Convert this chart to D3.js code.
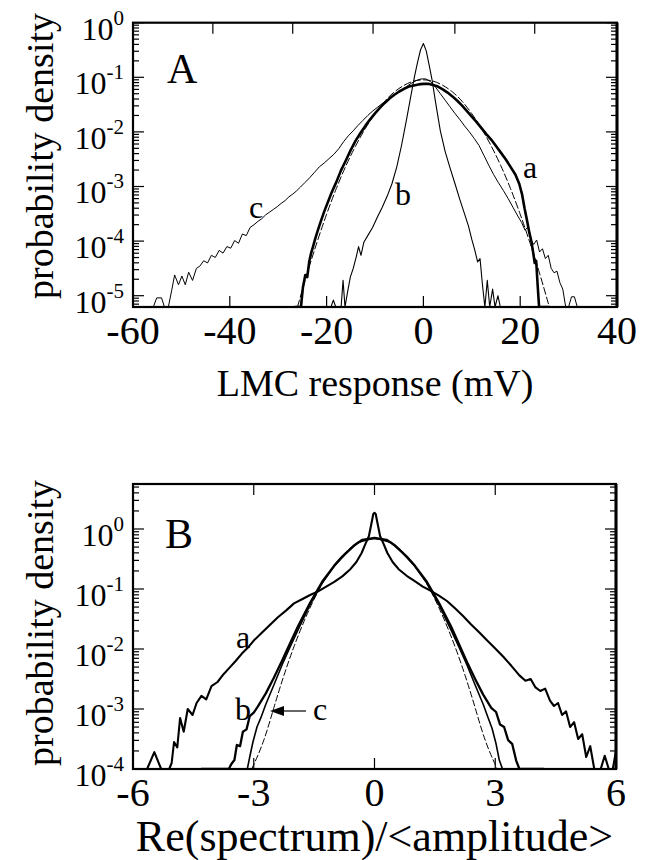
<!DOCTYPE html>
<html>
<head>
<meta charset="utf-8">
<script src="https://cdn.jsdelivr.net/npm/d3@7/dist/d3.min.js"></script>
<style>
html,body{margin:0;padding:0;background:#fff;}
svg, svg text, svg tspan{font-family:"Liberation Serif","Tinos","DejaVu Serif","Noto Serif","Times New Roman",Times,serif;}
</style>
</head>
<body>
<svg id="fig" width="649" height="860" font-family="Liberation Serif, DejaVu Serif, serif"></svg>
<script>
// Histograms are stored as [x, log10(probability density)] pairs.
// Entries well below the axis floor are empty bins; they sit on the bottom frame.

// ---- Panel A: LMC response (mV) ----
const lmcTraceA = [[-26.5,-6],[-25.3,-6],[-24.9,-4.85],[-24.4,-4.62],[-24.0,-4.66],[-23.6,-4.38],[-23.2,-4.22],[-22.8,-4.10],[-22.3,-3.94],[-21.8,-3.80],[-21.2,-3.64],[-20.5,-3.46],[-19.8,-3.30],[-19.0,-3.12],[-18.0,-2.92],[-17.0,-2.70],[-16.0,-2.52],[-15.0,-2.33],[-14.0,-2.16],[-13.0,-2.02],[-12.0,-1.89],[-11.0,-1.77],[-10.0,-1.66],[-9.0,-1.56],[-8.0,-1.47],[-7.0,-1.39],[-6.0,-1.32],[-5.0,-1.26],[-4.0,-1.21],[-3.0,-1.17],[-2.0,-1.15],[-1.0,-1.13],[0,-1.12],[1.0,-1.12],[2.0,-1.14],[3.0,-1.17],[4.0,-1.22],[5.0,-1.28],[6.0,-1.35],[7.0,-1.43],[8.0,-1.52],[9.0,-1.62],[10.0,-1.72],[11.0,-1.82],[12.0,-1.93],[13.0,-2.04],[14.0,-2.14],[15.0,-2.26],[16.0,-2.38],[17.0,-2.50],[18.0,-2.64],[19.0,-2.78],[19.8,-2.95],[20.4,-3.15],[20.9,-3.40],[21.4,-3.62],[21.9,-3.85],[22.3,-4.00],[22.7,-4.22],[23.0,-4.40],[23.3,-4.36],[23.6,-4.80],[23.9,-6],[26.0,-6]];

const lmcTraceB = [[-21.0,-6],[-19.1,-6],[-18.6,-5.08],[-18.1,-6],[-17.0,-6],[-16.6,-4.72],[-16.2,-6],[-15.7,-4.95],[-15.1,-4.66],[-14.5,-4.50],[-13.9,-4.30],[-13.4,-4.10],[-12.9,-4.26],[-12.3,-4.02],[-11.5,-3.90],[-10.5,-3.75],[-9.5,-3.56],[-8.5,-3.38],[-7.5,-3.18],[-6.5,-2.95],[-5.5,-2.64],[-4.5,-2.24],[-3.5,-1.78],[-2.5,-1.30],[-1.8,-0.97],[-1.2,-0.72],[-0.6,-0.50],[0,-0.38],[0.6,-0.52],[1.2,-0.78],[1.8,-1.05],[2.5,-1.45],[3.5,-1.98],[4.5,-2.36],[5.5,-2.66],[6.5,-2.94],[7.5,-3.23],[8.5,-3.50],[9.3,-3.72],[10.0,-3.97],[10.6,-4.16],[11.2,-4.38],[11.7,-4.32],[12.2,-4.80],[12.7,-6],[13.2,-4.72],[13.7,-6],[14.3,-4.88],[14.8,-6],[15.4,-5.0],[15.9,-6],[17.5,-6]];

const lmcTraceC = [[-57.5,-6],[-55.8,-6],[-55.1,-5.04],[-54.1,-5.04],[-53.5,-6],[-52.7,-6],[-52.0,-4.90],[-51.4,-4.62],[-50.6,-4.80],[-49.9,-4.64],[-49.2,-4.80],[-48.5,-4.57],[-47.7,-4.72],[-46.9,-4.50],[-46.2,-4.46],[-45.4,-4.36],[-44.6,-4.40],[-43.8,-4.26],[-43.0,-4.30],[-42.2,-4.17],[-41.4,-4.22],[-40.6,-4.10],[-39.8,-4.13],[-39.0,-3.99],[-38.2,-4.04],[-37.4,-3.87],[-36.6,-3.90],[-35.8,-3.75],[-35.0,-3.70],[-34.2,-3.64],[-33.4,-3.59],[-32.6,-3.52],[-31.8,-3.47],[-31.0,-3.42],[-30.2,-3.37],[-29.4,-3.31],[-28.6,-3.26],[-27.8,-3.19],[-27.0,-3.14],[-26.2,-3.08],[-25.4,-3.01],[-24.5,-2.93],[-23.5,-2.84],[-22.5,-2.74],[-21.5,-2.64],[-20.5,-2.57],[-19.5,-2.49],[-18.5,-2.41],[-17.5,-2.31],[-16.5,-2.18],[-15.5,-2.07],[-14.5,-1.98],[-13.5,-1.88],[-12.5,-1.79],[-11.5,-1.70],[-10.5,-1.62],[-9.5,-1.55],[-8.5,-1.48],[-7.5,-1.42],[-6.5,-1.35],[-5.5,-1.30],[-4.5,-1.24],[-3.5,-1.17],[-2.5,-1.11],[-1.5,-1.06],[-0.5,-1.03],[0.5,-1.03],[1.5,-1.08],[2.5,-1.18],[3.5,-1.30],[4.5,-1.42],[5.5,-1.54],[6.5,-1.66],[7.5,-1.77],[8.5,-1.89],[9.5,-2.00],[10.5,-2.12],[11.5,-2.25],[12.5,-2.43],[13.5,-2.61],[14.5,-2.78],[15.5,-2.93],[16.5,-3.07],[17.5,-3.22],[18.5,-3.38],[19.5,-3.54],[20.3,-3.66],[21.0,-3.80],[21.6,-3.74],[22.2,-3.98],[22.8,-4.06],[23.4,-3.98],[24.0,-4.20],[24.6,-4.14],[25.2,-4.32],[25.8,-4.26],[26.4,-4.50],[27.0,-4.58],[27.6,-4.55],[28.2,-4.76],[28.8,-4.88],[29.4,-6],[30.0,-6],[30.6,-5.02],[31.2,-5.02],[31.8,-6],[33.0,-6]];

const lmcGaussFit = [[-26,-5.20],[-24,-4.58],[-22,-4.02],[-20,-3.50],[-18,-3.03],[-16,-2.61],[-14,-2.25],[-12,-1.93],[-10,-1.66],[-8,-1.43],[-6,-1.26],[-4,-1.14],[-2,-1.06],[0,-1.04],[2,-1.06],[4,-1.14],[6,-1.26],[8,-1.43],[10,-1.66],[12,-1.93],[14,-2.25],[16,-2.61],[18,-3.03],[20,-3.50],[22,-4.02],[24,-4.58],[26,-5.20]];

const lmcTicks = [-60, -40, -20, 0, 20, 40];
const lmcTopTicks = [-43.5, -27, -10.4, 6.5, 23];

// ---- Panel B: Re(spectrum)/<amplitude> ----
const specTraceA = [[-6.0,-5],[-5.65,-5],[-5.47,-3.72],[-5.30,-5],[-5.10,-5],[-5.04,-3.90],[-4.98,-3.55],[-4.90,-3.64],[-4.83,-3.15],[-4.74,-3.38],[-4.64,-3.00],[-4.52,-3.10],[-4.42,-2.90],[-4.30,-2.78],[-4.18,-2.84],[-4.05,-2.62],[-3.90,-2.55],[-3.75,-2.42],[-3.60,-2.31],[-3.45,-2.20],[-3.30,-2.08],[-3.15,-1.98],[-3.00,-1.86],[-2.80,-1.73],[-2.60,-1.60],[-2.40,-1.47],[-2.20,-1.36],[-2.00,-1.24],[-1.80,-1.17],[-1.60,-1.10],[-1.40,-1.04],[-1.20,-0.96],[-1.00,-0.88],[-0.80,-0.79],[-0.60,-0.67],[-0.45,-0.55],[-0.32,-0.40],[-0.22,-0.24],[-0.14,-0.12],[-0.08,0.08],[-0.03,0.25],[0,0.27],[0.03,0.25],[0.08,0.08],[0.14,-0.12],[0.22,-0.24],[0.32,-0.40],[0.45,-0.55],[0.60,-0.67],[0.80,-0.78],[1.00,-0.87],[1.20,-0.96],[1.40,-1.03],[1.60,-1.11],[1.80,-1.20],[2.00,-1.32],[2.20,-1.45],[2.40,-1.59],[2.60,-1.72],[2.80,-1.86],[3.00,-1.99],[3.20,-2.13],[3.40,-2.28],[3.60,-2.44],[3.75,-2.53],[3.88,-2.50],[4.00,-2.64],[4.12,-2.70],[4.24,-2.66],[4.36,-2.86],[4.46,-2.95],[4.56,-2.90],[4.66,-3.10],[4.76,-3.04],[4.86,-3.30],[4.96,-3.22],[5.06,-3.50],[5.16,-3.42],[5.26,-3.80],[5.36,-3.62],[5.46,-5],[5.62,-5],[5.72,-3.78],[5.82,-5],[5.92,-5],[6.0,-3.70]];

const specTraceB = [[-4.3,-5],[-3.92,-5],[-3.85,-4.30],[-3.78,-5],[-3.62,-5],[-3.56,-3.92],[-3.48,-3.85],[-3.42,-3.60],[-3.34,-3.62],[-3.27,-3.38],[-3.18,-3.34],[-3.10,-3.12],[-3.00,-3.06],[-2.90,-2.96],[-2.70,-2.74],[-2.50,-2.48],[-2.30,-2.20],[-2.10,-1.91],[-1.90,-1.62],[-1.60,-1.23],[-1.30,-0.88],[-1.00,-0.61],[-0.80,-0.46],[-0.50,-0.27],[-0.30,-0.18],[0,-0.15],[0.30,-0.18],[0.50,-0.27],[0.80,-0.46],[1.00,-0.61],[1.30,-0.88],[1.60,-1.23],[1.90,-1.62],[2.10,-1.92],[2.30,-2.22],[2.50,-2.50],[2.70,-2.76],[2.90,-2.98],[3.02,-3.05],[3.12,-3.26],[3.22,-3.30],[3.32,-3.52],[3.42,-3.58],[3.52,-3.86],[3.60,-4.10],[3.66,-5],[4.2,-5]];

const specTraceC = [[-3.6,-5],[-3.30,-5],[-3.24,-4.20],[-3.16,-5],[-3.10,-3.80],[-3.02,-3.55],[-2.92,-3.30],[-2.82,-3.14],[-2.70,-2.92],[-2.50,-2.60],[-2.30,-2.27],[-2.10,-1.97],[-1.90,-1.68],[-1.60,-1.26],[-1.30,-0.90],[-1.00,-0.62],[-0.70,-0.40],[-0.40,-0.22],[0,-0.15],[0.40,-0.22],[0.70,-0.40],[1.00,-0.62],[1.30,-0.90],[1.60,-1.26],[1.90,-1.68],[2.10,-1.97],[2.30,-2.27],[2.50,-2.60],[2.70,-2.92],[2.82,-3.14],[2.92,-3.32],[3.02,-3.58],[3.10,-3.85],[3.18,-4.25],[3.22,-5],[3.6,-5]];

const specGaussFit = [[-3.05,-4.35],[-2.75,-3.56],[-2.5,-2.97],[-2.25,-2.43],[-2.0,-1.95],[-1.75,-1.53],[-1.5,-1.16],[-1.25,-0.85],[-1.0,-0.60],[-0.75,-0.40],[-0.5,-0.26],[-0.25,-0.18],[0,-0.15],[0.25,-0.18],[0.5,-0.26],[0.75,-0.40],[1.0,-0.60],[1.25,-0.85],[1.5,-1.16],[1.75,-1.53],[2.0,-1.95],[2.25,-2.43],[2.5,-2.97],[2.75,-3.56],[3.05,-4.35]];

const specTicks = [-6, -3, 0, 3, 6];

const FONT = "Liberation Serif, DejaVu Serif, serif";
const svg = d3.select("#fig");

function drawPanel(p) {
  const x = d3.scaleLinear().domain(p.xDomain).range([p.left, p.right]);
  const y = d3.scaleLog().domain(p.yDomain).range([p.bottom, p.top]).clamp(true);
  const g = svg.append("g").attr("font-family", FONT);

  const clipId = "clip-" + p.name;
  svg.append("clipPath").attr("id", clipId).append("rect")
    .attr("x", p.left).attr("y", p.top - 1)
    .attr("width", p.right - p.left).attr("height", p.bottom - p.top + 2);

  // log-axis ticks: decades plus the 2..9 subdivisions, on both side frames
  const lo = Math.floor(Math.log10(p.yDomain[0])), hi = Math.ceil(Math.log10(p.yDomain[1]));
  const majors = [], minors = [];
  for (let e = lo; e <= hi; e++) {
    for (let m = 1; m <= 9; m++) {
      const v = m * Math.pow(10, e);
      if (v < p.yDomain[0] * 0.999 || v > p.yDomain[1] * 1.001) continue;
      (m === 1 ? majors : minors).push({v, e});
    }
  }
  const tk = g.append("g").attr("stroke", "#000").attr("stroke-width", 1.2);
  [[p.left, 1], [p.right, -1]].forEach(([edge, dir]) => {
    tk.selectAll(null).data(minors).join("line")
      .attr("x1", edge).attr("x2", edge + dir * 6)
      .attr("y1", d => y(d.v)).attr("y2", d => y(d.v));
    tk.selectAll(null).data(majors).join("line")
      .attr("x1", edge).attr("x2", edge + dir * 11)
      .attr("y1", d => y(d.v)).attr("y2", d => y(d.v));
  });
  // x ticks, bottom and top
  tk.selectAll(null).data(p.xTicks).join("line")
    .attr("x1", d => x(d)).attr("x2", d => x(d))
    .attr("y1", p.bottom).attr("y2", p.bottom - 11);
  tk.selectAll(null).data(p.xTopTicks).join("line")
    .attr("x1", d => x(d)).attr("x2", d => x(d))
    .attr("y1", p.top).attr("y2", p.top + 11);

  // decade labels 10^n
  const lab = g.selectAll(null).data(majors).join("text")
    .attr("x", p.left - 9).attr("y", d => y(d.v) + 17)
    .attr("text-anchor", "end").attr("font-size", 32);
  lab.append("tspan").text("10");
  lab.append("tspan").attr("font-size", 21).attr("dy", -15).text(d => d.e);

  // x tick labels
  g.selectAll(null).data(p.xTicks).join("text")
    .attr("x", d => x(d)).attr("y", p.bottom + 37)
    .attr("text-anchor", "middle").attr("font-size", 40)
    .text(d => d);

  // curves
  const line = d3.line().x(d => x(d[0])).y(d => y(Math.pow(10, d[1])));
  const plot = g.append("g").attr("clip-path", `url(#${clipId})`)
    .attr("fill", "none").attr("stroke", "#000")
    .attr("stroke-linejoin", "round").attr("stroke-linecap", "round");
  p.series.forEach(s => {
    plot.append("path").datum(s.data)
      .attr("d", s.smooth ? line.curve(d3.curveBasis)(s.data) : line.curve(d3.curveLinear)(s.data))
      .attr("stroke-width", s.width)
      .attr("stroke-dasharray", s.dash || null);
  });

  // frame (right edge drawn a little heavier)
  g.append("rect").attr("x", p.left).attr("y", p.top)
    .attr("width", p.right - p.left).attr("height", p.bottom - p.top)
    .attr("fill", "none").attr("stroke", "#000").attr("stroke-width", 2.2);
  g.append("line").attr("x1", p.right).attr("x2", p.right)
    .attr("y1", p.top).attr("y2", p.bottom)
    .attr("stroke", "#000").attr("stroke-width", 3);

  // panel letter, axis titles, curve letters
  g.append("text").attr("x", p.letterPos[0]).attr("y", p.letterPos[1])
    .attr("font-size", 42).text(p.name);
  g.append("text").attr("x", (p.left + p.right) / 2).attr("y", p.xTitleY)
    .attr("text-anchor", "middle").attr("font-size", p.xTitleSize).text(p.xTitle);
  g.append("text")
    .attr("transform", `translate(53,${p.yTitleY}) rotate(-90)`)
    .attr("text-anchor", "middle").attr("font-size", 38).text("probability density");
  p.curveLabels.forEach(c => {
    g.append("text").attr("x", c.x).attr("y", c.y)
      .attr("text-anchor", "middle").attr("font-size", 32).text(c.t);
  });
  return {x, y, g};
}

drawPanel({
  name: "A", left: 133, right: 617, top: 22.7, bottom: 307,
  xDomain: [-60, 40], yDomain: [Math.pow(10, -5.207), 1],
  xTicks: lmcTicks, xTopTicks: lmcTopTicks,
  series: [
    {data: lmcTraceC, width: 1},
    {data: lmcTraceB, width: 1.1},
    {data: lmcGaussFit, width: 1, dash: "7,3", smooth: true},
    {data: lmcTraceA, width: 2.6}
  ],
  letterPos: [167, 83],
  xTitle: "LMC response (mV)", xTitleY: 396, xTitleSize: 38,
  yTitleY: 156,
  curveLabels: [{t: "a", x: 530, y: 178}, {t: "b", x: 403, y: 205}, {t: "c", x: 256, y: 218}]
});

const panelB = drawPanel({
  name: "B", left: 133, right: 616, top: 484, bottom: 769,
  xDomain: [-6, 6], yDomain: [1e-4, Math.pow(10, 0.75)],
  xTicks: specTicks, xTopTicks: [-3, 0, 3],
  series: [
    {data: specGaussFit, width: 1, dash: "6,3", smooth: true},
    {data: specTraceC, width: 1.6},
    {data: specTraceB, width: 2.3},
    {data: specTraceA, width: 2.1}
  ],
  letterPos: [165, 548],
  xTitle: "Re(spectrum)/<amplitude>", xTitleY: 851, xTitleSize: 44,
  yTitleY: 623,
  curveLabels: [{t: "a", x: 243, y: 648}, {t: "b", x: 243, y: 720}, {t: "c", x: 320, y: 720}]
});

// arrow from label c to its curve
(function () {
  const g = panelB.g;
  const yA = 711;
  g.append("line").attr("x1", 306).attr("x2", 282).attr("y1", yA).attr("y2", yA)
    .attr("stroke", "#000").attr("stroke-width", 1.2);
  g.append("path").attr("d", `M270,${yA} L284,${yA - 5} L284,${yA + 5} Z`).attr("fill", "#000");
})();
</script>
</body>
</html>
